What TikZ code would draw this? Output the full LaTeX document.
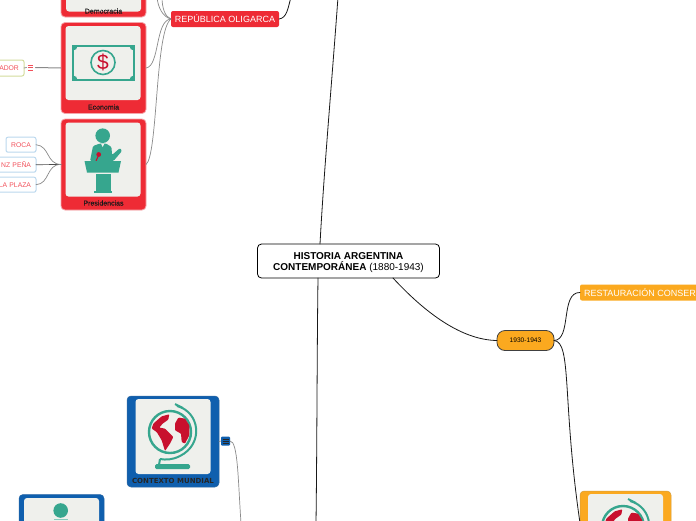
\documentclass[tikz,border=0pt]{standalone}
\usepackage{fontspec}
\setmainfont{Liberation Sans}
\newfontfamily\dejavu{DejaVu Sans}
\newfontfamily\fakebold[FakeBold=0.15]{Liberation Sans}
\definecolor{cred}{HTML}{EE2B35}
\definecolor{cpink}{HTML}{F4A6AB}
\definecolor{corange}{HTML}{FBA91F}
\definecolor{cblue}{HTML}{0F5FAE}
\definecolor{cteal}{HTML}{36A68E}
\definecolor{ccrim}{HTML}{C8102E}
\definecolor{cpanel}{HTML}{EFF0EC}
\definecolor{ctxt}{HTML}{F2505A}
\definecolor{cgl}{HTML}{8A8A8A}
\definecolor{cbb}{HTML}{BBD8EE}
\definecolor{cgb}{HTML}{D3DC9C}
\newcommand{\fs}[1]{\fontsize{#1}{#1}\selectfont}
\tikzset{
  x=1pt,y=-1pt,
  every node/.style={inner sep=0pt,outer sep=0pt},
  card/.style={rounded corners=4pt,minimum width=#1},
  card/.default=85pt,
  redcard/.style={card,fill=cred,draw=cpink,line width=.8pt,minimum height=91pt},
  bluecard/.style={card=92pt,fill=cblue,draw=cblue!70!gray,line width=.5pt,minimum height=91pt},
  orangecard/.style={card=91pt,fill=corange,draw=corange!70!gray,line width=.5pt,minimum height=91pt},
  panel/.style={rounded corners=3pt,fill=cpanel,minimum width=75pt,minimum height=75pt},
  cardlabel/.style={font=\fakebold\fs{7},text=black!90},
  small/.style={rounded corners=2pt,fill=white,draw=#1,line width=1pt,minimum height=15pt,font=\fs{6.8},text=ctxt},
  wire/.style={draw=black!90,line width=.8pt,line cap=round},
  thin wire/.style={draw=cgl,line width=.7pt,line cap=round},
  topic/.style={rounded corners=2pt,text=white,font=\fs{9},minimum height=16pt},
  globe/.pic={
    \draw[cteal,line width=2.4pt] (0,0) circle (21);
    \fill[ccrim,rounded corners=.8pt] (-16.7,-8.4)--(-8.3,-15.7)--(-.7,-17.7)--(-1.7,-12.4)--(-7.3,-8.4)--(-10.7,-4.4)--(-5,-3.4)--(3.3,5)--(0,11.6)--(-5,19)--(-8.3,8.3)--(-13.3,0)--(-18.3,-3.4)--cycle;
    \fill[ccrim,rounded corners=.8pt] (5,-8.4)--(8.3,-14.4)--(15,-13.4)--(19.3,-6.7)--(19.3,3.3)--(15,11.6)--(11.7,10)--(11,1.6)--(5,-1.7)--cycle;
    \draw[cteal,line width=2pt] (7,-26) .. controls (30,-20) and (34,12) .. (10,24) .. controls (2,28) and (-4,28) .. (-10,27);
    \draw[cteal,line width=2pt] (5,-28)--(13,-24);
    \draw[cteal,line width=2pt] (-10,27)--(-11,33);
    \fill[cteal,rounded corners=1.5pt] (-15,32) rectangle (20,37);
  },
}
\begin{document}
\begin{tikzpicture}
\clip (0,0) rectangle (696,520);
\fill[white] (0,0) rectangle (696,520);

% coordinates for free ends
\coordinate (topmain) at (338,-3);
\coordinate (botmain) at (316,523);
\coordinate (toprep) at (291,-3);
\coordinate (topa) at (157,-3);
\coordinate (topb) at (162,-3);
\coordinate (botctx) at (241,523);

% main nodes
\node[rounded corners=4pt,draw=black,line width=.8pt,fill=white,minimum width=182pt,minimum height=34pt,align=center,font=\fs{10}] (hist) at (348.5,261)
  {\rule{0pt}{11pt}\textbf{HISTORIA ARGENTINA}\\[1pt]\textbf{CONTEMPORÁNEA} (1880-1943)};
\node[topic,fill=cred,minimum width=108pt] (rep) at (225,19) {REPÚBLICA OLIGARCA};
\node[rounded corners=8pt,fill=corange,draw=black!75,line width=.8pt,minimum width=57pt,minimum height=20pt,font=\fs{6.6}] (per) at (525.5,340.5) {1930-1943};
\node[topic,fill=corange,minimum width=130pt,anchor=west,rounded corners=2pt] (rest) at (580,292.5) {};
\node[text=white,font=\fs{9},anchor=west] (resttxt) at (584,292.5) {RESTAURACIÓN CONSER};

% red cards
\node[redcard] (dem) at (103.5,-28.5) {};
\node[panel] (dempan) at (103.5,-26) {};
\node[cardlabel] (demlab) at (103.5,11) {Democracia};
\node[redcard] (eco) at (103.5,68) {};
\node[panel,minimum height=74pt] (ecopan) at (103,63) {};
\node[cardlabel] (ecolab) at (103.5,107) {Economia};
\node[redcard] (pre) at (103.5,164.5) {};
\node[panel,minimum height=74pt] (prepan) at (103,159.5) {};
\node[cardlabel] (prelab) at (103.5,203) {Presidencias};

% blue cards
\node[bluecard] (ctx) at (173,441.5) {};
\node[panel] (ctxpan) at (173,436.5) {};
\node[font=\dejavu\bfseries\fs{7},text=black!85] (ctxlab) at (173,481) {CONTEXTO MUNDIAL};
\node[card,fill=cblue,draw=cblue!80!gray,line width=.5pt,minimum height=91pt] (low) at (61.5,540) {};
\node[panel] (lowpan) at (61.5,535.5) {};

% orange card
\node[orangecard] (ora) at (625.5,536.5) {};
\node[panel] (orapan) at (625.5,531.5) {};

% side items
\node[small=cbb,minimum width=30pt] (roca) at (21,144.7) {ROCA};
\node[small=cbb,minimum width=44pt,anchor=east,text width=34pt,align=right] (saenz) at (36,164.7) {NZ PEÑA};
\node[small=cbb,minimum width=44pt,anchor=east,text width=34pt,align=right] (plaza) at (36,184.7) {LA PLAZA};
\node[small=cgb,minimum width=30pt,minimum height=16pt,anchor=east,text width=19.5pt,align=right] (ador) at (24,68) {ADOR};
\node[minimum width=6pt,minimum height=6pt] (menua) at (30.5,67.5) {};
\foreach \yy in {65,67.5,70} \draw[ctxt,line width=.8pt] (28,\yy) -- (33,\yy);
\node[rounded corners=1pt,fill=cblue,minimum width=9pt,minimum height=9pt] (menub) at (225.5,441) {};
\foreach \yy in {439,441,443} \draw[black!85,line width=.8pt] (222.5,\yy) -- (228.5,\yy);

% connectors
\draw[wire] ([xshift=-28.5pt]hist.north) .. controls (324,170) and (332,80) .. (topmain);
\draw[wire] ([xshift=-30.5pt]hist.south) .. controls (317,350) and (317,450) .. (botmain);
\draw[wire] ([xshift=44.5pt]hist.south) .. controls (430,318) and (465,340) .. (per.west);
\draw[wire] (per.east) .. controls (572,340) and (560,292) .. (rest.west);
\draw[wire] (per.east) .. controls (572,342) and (562,400) .. (ora.west|-0,523);
\draw[wire] (rep.east) .. controls (287,18) and (288,8) .. (toprep);
\draw[thin wire] (eco.east) .. controls (160,66) and (155,20) .. (rep.west);
\draw[thin wire] (pre.east) .. controls (158,155) and (155,30) .. (rep.west);
\draw[thin wire] (topa) .. controls (158,8) and (163,17) .. (rep.west);
\draw[thin wire] (topb) .. controls (162,8) and (165,17) .. (rep.west);
\draw[thin wire,line width=1pt] ([xshift=2pt]menua.east) -- (eco.west);
\draw[thin wire] (ador.east) -- ([xshift=-1pt]menua.west);
\draw[thin wire] (roca.east) .. controls (50,146) and (46,164) .. (pre.west);
\draw[thin wire,black!70] (saenz.east) -- (pre.west);
\draw[thin wire] (plaza.east) .. controls (50,184) and (46,164) .. (pre.west);
\draw[thin wire] (ctx.east) -- (menub.west);
\draw[thin wire] (menub.east) .. controls (238,441) and (238,480) .. (botctx);

% dollar icon
\begin{scope}
\clip (73,46) rectangle (134,80);
\foreach \a/\b in {73/46,134/46,134/80,73/80}
  \fill[cteal] (\a,\b) circle (4.5);
\end{scope}
\draw[cteal,line width=2pt] (73,46) rectangle (134,80);
\draw[cteal,line width=1.6pt] (103,62.5) circle (12);
\node[text=ccrim,font=\fs{21}] (dollar) at (103,62.5) {\$};

% presenter icon
\fill[cteal] (102.7,135.7) circle (7.3);
\fill[cteal,rounded corners=1.2pt] (90,161) -- (93,146) -- (100,143.5) -- (106,143.5) -- (111.5,147) -- (112,155) -- (120,148) -- (122,151) -- (113.5,161) -- cycle;
\fill[cpanel] (101,143.5) -- (104.5,143.5) -- (102.7,147) -- cycle;
\fill[ccrim] (98.7,154.5) circle (2.4);
\draw[ccrim,line width=1pt] (98.7,155) -- (96,161);
\fill[cteal] (84.5,161) -- (121,161) -- (118.5,172.5) -- (87,172.5) -- cycle;
\fill[cteal] (95.5,173.5) rectangle (110.5,191);
\fill[cteal] (93.5,191) rectangle (112,193);

% person head on lower card
\fill[cteal] (60.7,510.5) circle (7.3);
\fill[cteal!60] (54,518.5) rectangle (68,520);

% globes
\pic at (170,432) {globe};
\pic at (623,527) {globe};
\end{tikzpicture}
\end{document}
